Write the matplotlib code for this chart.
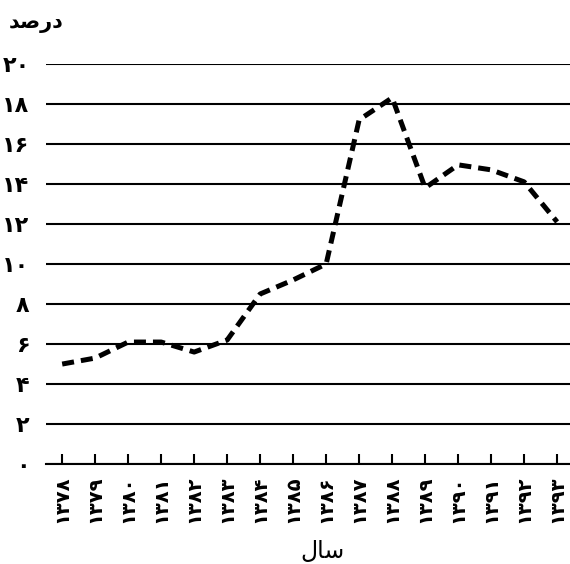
import numpy as np
import matplotlib.pyplot as plt

# Data
years = ['۱۳۷۸', '۱۳۷۹', '۱۳۸۰', '۱۳۸۱', '۱۳۸۲', '۱۳۸۳', '۱۳۸۴', '۱۳۸۵',
         '۱۳۸۶', '۱۳۸۷', '۱۳۸۸', '۱۳۸۹', '۱۳۹۰', '۱۳۹۱', '۱۳۹۲', '۱۳۹۳']
values = [5.0, 5.3, 6.1, 6.1, 5.6, 6.2, 8.5, 9.2, 10.0, 17.2, 18.3, 13.8,
          14.95, 14.7, 14.1, 12.1]
yticks = [0, 2, 4, 6, 8, 10, 12, 14, 16, 18, 20]
ytick_labels = ['۰', '۲', '۴', '۶', '۸', '۱۰', '۱۲', '۱۴', '۱۶', '۱۸', '۲۰']

# Arabic text in presentation forms (visual order) since matplotlib does no shaping
title_text = '\uFEAA\uFEBB\uFEAD\uFEA9'   # درصد
xlabel_text = '\uFEDD\uFE8E\uFEB3'        # سال

plt.rcParams['font.family'] = ['DejaVu Sans']

fig = plt.figure(figsize=(5.7, 5.64), dpi=100)
ax = fig.add_axes([0.081, 0.177, 0.919, 0.71])

x = np.arange(len(years))
ax.plot(x, values, color='black', linewidth=3.6, linestyle=(0, (2.4, 1.4)),
        dash_capstyle='butt', dash_joinstyle='round', zorder=3)

ax.set_xlim(-0.485, 15.39)
ax.set_ylim(0, 20)
ax.set_yticks(yticks)
ax.set_yticklabels(ytick_labels, fontsize=16, fontweight='bold')
ax.set_xticks(x)
ax.set_xticklabels(years, rotation=90, fontsize=14, fontweight='bold')

ax.yaxis.grid(True, color='black', linewidth=1.5)
ax.set_axisbelow(True)
for s in ['top', 'right', 'left']:
    ax.spines[s].set_visible(False)
ax.spines['bottom'].set_linewidth(1.5)
ax.tick_params(axis='y', length=0, pad=12)
ax.tick_params(axis='x', direction='in', length=7, width=1.5, pad=8)

fig.text(0.015, 0.96, title_text, fontsize=15, fontweight='bold', ha='left', va='center')
fig.text(0.565, 0.023, xlabel_text, fontsize=17, ha='center', va='center')

fig.savefig('out.png', dpi=100)
